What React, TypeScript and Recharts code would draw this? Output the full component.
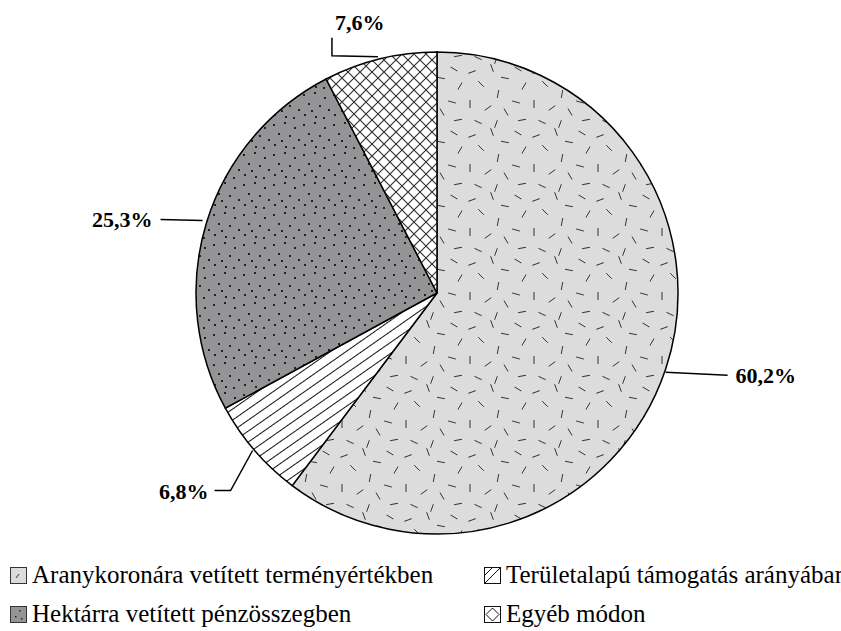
import { PieChart, Pie, Cell } from 'recharts';

const categories = [
  'Aranykoronára vetített terményértékben',
  'Területalapú támogatás arányában',
  'Hektárra vetített pénzösszegben',
  'Egyéb módon',
];
const shares = [60.2, 6.8, 25.3, 7.6];
const shareLabels = ['60,2%', '6,8%', '25,3%', '7,6%'];

const fills = ['url(#pDash)', 'url(#pDiag)', 'url(#pDots)', 'url(#pCross)'];

const data = categories.map((name, i) => ({ name, value: shares[i], label: shareLabels[i] }));

// leader line elbows, relative to the point on the rim at the slice middle
const leaders = [
  { pts: [[0, 3], [62, 6]], tx: 70, ty: 14, anchor: 'start' },
  { pts: [[-2, 0], [-24, 40], [-40, 40]], tx: -46, ty: 48, anchor: 'end' },
  { pts: [[-4, -2], [-46, -3]], tx: -54, ty: 5, anchor: 'end' },
  { pts: [[-2, -2], [-48, -3], [-48, -21]], tx: -45, ty: -29, anchor: 'start' },
];

const dashes = [
  [6, 5, 30], [24, 8, -20], [44, 4, 70], [57, 14, 10], [12, 22, -60], [33, 20, 45], [50, 30, -80],
  [4, 38, 15], [22, 40, 90], [40, 44, -35], [58, 48, 60], [10, 56, -10], [30, 58, 25], [48, 60, -70],
];
const dots = [[3, 4], [14, 2], [24, 7], [8, 13], [19, 15], [28, 19], [4, 24], [15, 26], [23, 27], [11, 20]];

const RADIAN = Math.PI / 180;

function Patterns() {
  return (
    <svg width={0} height={0} style={{ position: 'absolute' }}>
      <defs>
        <pattern id="pDash" patternUnits="userSpaceOnUse" width={64} height={64}>
          <rect width={64} height={64} fill="#dcdcdd" />
          {dashes.map(([x, y, a], i) => {
            const dx = 4 * Math.cos(a * RADIAN);
            const dy = 4 * Math.sin(a * RADIAN);
            return <line key={i} x1={x - dx} y1={y - dy} x2={x + dx} y2={y + dy} stroke="#333" strokeWidth={1} />;
          })}
        </pattern>
        <pattern id="pDiag" patternUnits="userSpaceOnUse" width={20} height={9} patternTransform="rotate(-35)">
          <rect width={20} height={9} fill="#fff" />
          <line x1={0} y1={0.5} x2={20} y2={0.5} stroke="#111" strokeWidth={1} />
        </pattern>
        <pattern id="pDots" patternUnits="userSpaceOnUse" width={30} height={30}>
          <rect width={30} height={30} fill="#949496" />
          {dots.map(([x, y], i) => (
            <rect key={i} x={x} y={y} width={2} height={2} fill="#222" />
          ))}
        </pattern>
        <pattern id="pCross" patternUnits="userSpaceOnUse" width={12} height={12}>
          <rect width={12} height={12} fill="#fff" />
          <path d="M0,0 L12,12 M12,0 L0,12" stroke="#333" strokeWidth={1.2} />
        </pattern>
      </defs>
    </svg>
  );
}

function renderLabel(props: any) {
  const { cx, cy, midAngle, outerRadius, index } = props;
  const ex = cx + outerRadius * Math.cos(-midAngle * RADIAN);
  const ey = cy + outerRadius * Math.sin(-midAngle * RADIAN);
  const l = leaders[index];
  const d = l.pts.map(([x, y], i) => `${i === 0 ? 'M' : 'L'}${ex + x},${ey + y}`).join(' ');
  return (
    <g key={`lbl-${index}`}>
      <path d={d} stroke="#000" strokeWidth={1.5} fill="none" />
      <text
        x={ex + l.tx}
        y={ey + l.ty}
        textAnchor={l.anchor as any}
        fontWeight="bold"
        fontSize={22}
        fill="#000"
      >
        {data[index].label}
      </text>
    </g>
  );
}

function LegendIcon({ index }: { index: number }) {
  return (
    <svg width={17} height={17} style={{ display: 'block', flexShrink: 0 }}>
      {index === 0 && (
        <>
          <rect x={0.5} y={0.5} width={16} height={16} fill="#dcdcdd" stroke="#333" />
          <line x1={6} y1={11} x2={9} y2={7} stroke="#333" />
        </>
      )}
      {index === 1 && (
        <>
          <rect x={0.5} y={0.5} width={16} height={16} fill="#fff" stroke="#111" />
          <line x1={1} y1={16} x2={16} y2={1} stroke="#111" />
          <line x1={1} y1={8} x2={8} y2={1} stroke="#111" />
        </>
      )}
      {index === 2 && (
        <>
          <rect x={0.5} y={0.5} width={16} height={16} fill="#949496" stroke="#333" />
          <rect x={9} y={4} width={1.5} height={1.5} fill="#222" />
          <rect x={5} y={10} width={1.5} height={1.5} fill="#222" />
          <rect x={11} y={12} width={1.5} height={1.5} fill="#222" />
        </>
      )}
      {index === 3 && (
        <>
          <rect x={0.5} y={0.5} width={16} height={16} fill="#fff" stroke="#111" />
          <path d="M8.5,2 L15,8.5 L8.5,15 L2,8.5 Z" fill="none" stroke="#111" />
        </>
      )}
    </svg>
  );
}

export default function App() {
  return (
    <div
      style={{
        position: 'absolute',
        left: 0,
        top: 0,
        width: 841,
        height: 631,
        background: '#fff',
        fontFamily: 'serif',
      }}
    >
      <Patterns />
      <PieChart width={841} height={550} margin={{ top: 0, right: 0, bottom: 0, left: 0 }}>
        <Pie
          data={data}
          dataKey="value"
          cx={437}
          cy={293}
          outerRadius={241}
          startAngle={90}
          endAngle={-270}
          stroke="#000"
          strokeWidth={1.5}
          label={renderLabel}
          labelLine={false}
          isAnimationActive={false}
        >
          {data.map((entry, i) => (
            <Cell key={`cell-${i}`} fill={fills[i]} />
          ))}
        </Pie>
      </PieChart>
      <div
        style={{
          position: 'absolute',
          left: 10,
          top: 563,
          display: 'grid',
          gridTemplateColumns: '474px 357px',
          rowGap: 15,
          fontSize: 25,
          lineHeight: '24px',
          color: '#000',
        }}
      >
        {categories.map((name, i) => (
          <div key={name} style={{ display: 'flex', alignItems: 'center', gap: 5, whiteSpace: 'nowrap' }}>
            <LegendIcon index={i} />
            <span>{name}</span>
          </div>
        ))}
      </div>
    </div>
  );
}
